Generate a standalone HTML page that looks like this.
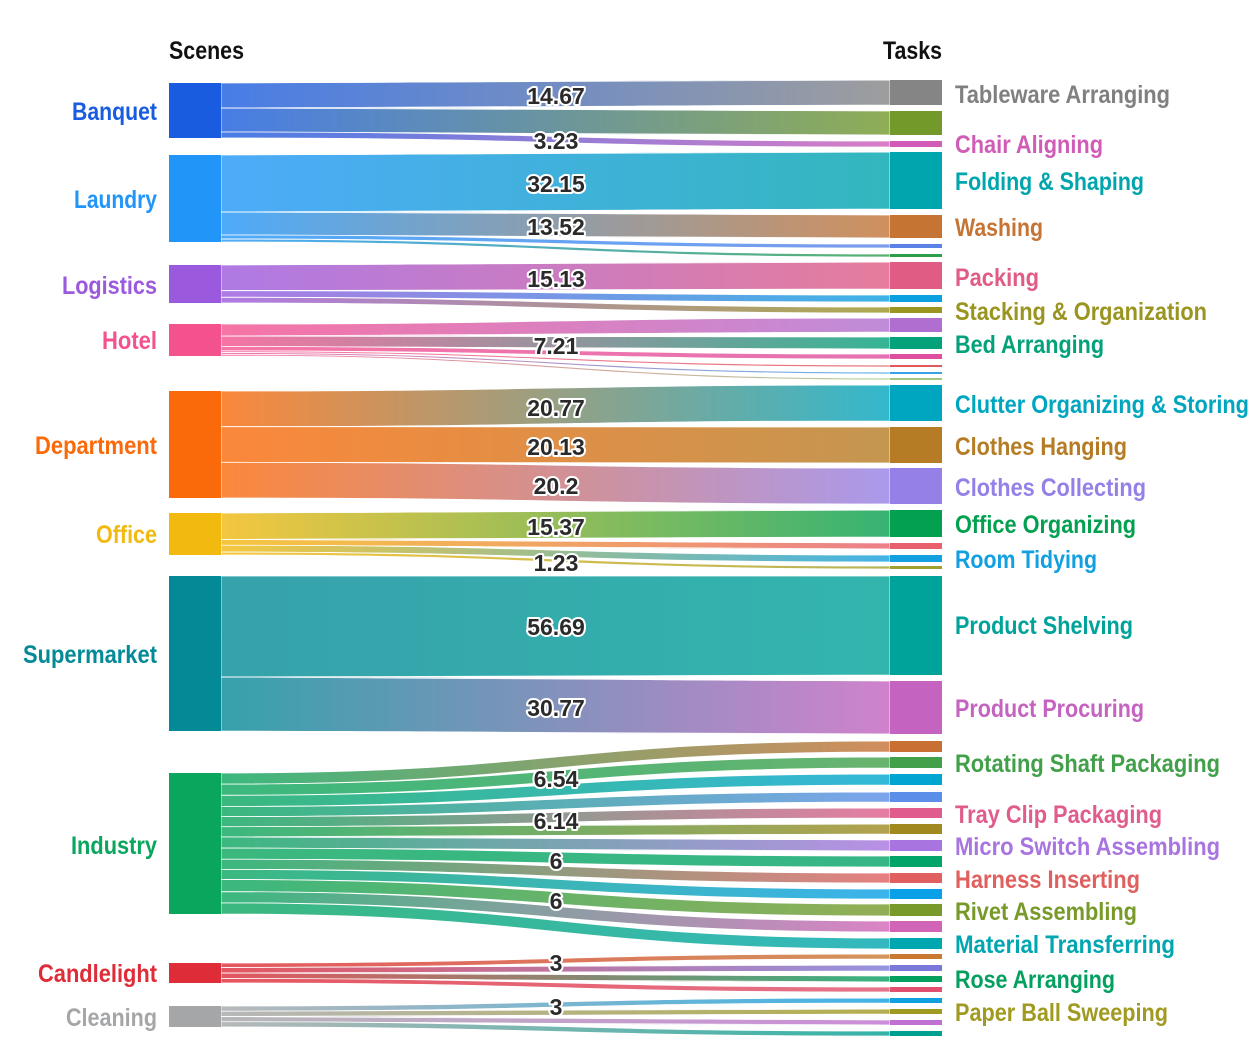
<!DOCTYPE html>
<html><head><meta charset="utf-8"><style>
html,body{margin:0;padding:0;background:#fff;}
svg{display:block;}
text{font-family:"Liberation Sans Narrow","Liberation Sans",sans-serif;font-weight:bold;}
.l{font-size:25px;text-anchor:end;}
.r{font-size:25px;}
.v{font-size:23px;fill:#2a2a2a;stroke:#fff;stroke-width:4px;paint-order:stroke;text-anchor:middle;stroke-linejoin:round;}
</style></head><body>
<svg id="s" width="1255" height="1039" viewBox="0 0 1255 1039" xmlns="http://www.w3.org/2000/svg">
<defs id="d"></defs>
<g id="links"></g>
<g id="nodes"></g>
<text x="169" y="59" class="r" fill="#111" textLength="75" lengthAdjust="spacingAndGlyphs">Scenes</text>
<text x="883" y="59" class="r" fill="#111" textLength="59" lengthAdjust="spacingAndGlyphs">Tasks</text>

<text x="157" y="120" class="l" fill="#1a5ce0" textLength="85" lengthAdjust="spacingAndGlyphs">Banquet</text>
<text x="157" y="208" class="l" fill="#2196f8" textLength="83" lengthAdjust="spacingAndGlyphs">Laundry</text>
<text x="157" y="294" class="l" fill="#9b59dd" textLength="95" lengthAdjust="spacingAndGlyphs">Logistics</text>
<text x="157" y="349" class="l" fill="#f4518f" textLength="55" lengthAdjust="spacingAndGlyphs">Hotel</text>
<text x="157" y="454" class="l" fill="#fa6a0a" textLength="122" lengthAdjust="spacingAndGlyphs">Department</text>
<text x="157" y="543" class="l" fill="#f2b90f" textLength="61" lengthAdjust="spacingAndGlyphs">Office</text>
<text x="157" y="663" class="l" fill="#048a96" textLength="134" lengthAdjust="spacingAndGlyphs">Supermarket</text>
<text x="157" y="854" class="l" fill="#0aa65e" textLength="86" lengthAdjust="spacingAndGlyphs">Industry</text>
<text x="157" y="982" class="l" fill="#de2c38" textLength="119" lengthAdjust="spacingAndGlyphs">Candlelight</text>
<text x="157" y="1026" class="l" fill="#a4a6a8" textLength="91" lengthAdjust="spacingAndGlyphs">Cleaning</text>

<text x="955" y="103" class="r" fill="#808080" textLength="215" lengthAdjust="spacingAndGlyphs">Tableware Arranging</text>
<text x="955" y="153" class="r" fill="#d05cb8" textLength="148" lengthAdjust="spacingAndGlyphs">Chair Aligning</text>
<text x="955" y="190" class="r" fill="#00a5ad" textLength="189" lengthAdjust="spacingAndGlyphs">Folding &amp; Shaping</text>
<text x="955" y="236" class="r" fill="#c57434" textLength="88" lengthAdjust="spacingAndGlyphs">Washing</text>
<text x="955" y="286" class="r" fill="#e05c84" textLength="84" lengthAdjust="spacingAndGlyphs">Packing</text>
<text x="955" y="320" class="r" fill="#9a9420" textLength="252" lengthAdjust="spacingAndGlyphs">Stacking &amp; Organization</text>
<text x="955" y="353" class="r" fill="#03a27a" textLength="149" lengthAdjust="spacingAndGlyphs">Bed Arranging</text>
<text x="955" y="413" class="r" fill="#00a6c0" textLength="294" lengthAdjust="spacingAndGlyphs">Clutter Organizing &amp; Storing</text>
<text x="955" y="455" class="r" fill="#b57c25" textLength="172" lengthAdjust="spacingAndGlyphs">Clothes Hanging</text>
<text x="955" y="496" class="r" fill="#9580e8" textLength="191" lengthAdjust="spacingAndGlyphs">Clothes Collecting</text>
<text x="955" y="533" class="r" fill="#03a050" textLength="181" lengthAdjust="spacingAndGlyphs">Office Organizing</text>
<text x="955" y="568" class="r" fill="#12a0e0" textLength="142" lengthAdjust="spacingAndGlyphs">Room Tidying</text>
<text x="955" y="634" class="r" fill="#00a39a" textLength="178" lengthAdjust="spacingAndGlyphs">Product Shelving</text>
<text x="955" y="717" class="r" fill="#c463c0" textLength="189" lengthAdjust="spacingAndGlyphs">Product Procuring</text>
<text x="955" y="772" class="r" fill="#43a04a" textLength="265" lengthAdjust="spacingAndGlyphs">Rotating Shaft Packaging</text>
<text x="955" y="823" class="r" fill="#e05c8c" textLength="207" lengthAdjust="spacingAndGlyphs">Tray Clip Packaging</text>
<text x="955" y="855" class="r" fill="#a874e0" textLength="265" lengthAdjust="spacingAndGlyphs">Micro Switch Assembling</text>
<text x="955" y="888" class="r" fill="#e06060" textLength="185" lengthAdjust="spacingAndGlyphs">Harness Inserting</text>
<text x="955" y="920" class="r" fill="#789a2a" textLength="182" lengthAdjust="spacingAndGlyphs">Rivet Assembling</text>
<text x="955" y="953" class="r" fill="#00a6b0" textLength="220" lengthAdjust="spacingAndGlyphs">Material Transferring</text>
<text x="955" y="988" class="r" fill="#05a060" textLength="160" lengthAdjust="spacingAndGlyphs">Rose Arranging</text>
<text x="955" y="1021" class="r" fill="#a09a20" textLength="213" lengthAdjust="spacingAndGlyphs">Paper Ball Sweeping</text>

<g id="vals">
<text x="556" y="104" class="v">14.67</text>
<text x="556" y="149" class="v">3.23</text>
<text x="556" y="192" class="v">32.15</text>
<text x="556" y="235" class="v">13.52</text>
<text x="556" y="287" class="v">15.13</text>
<text x="556" y="354" class="v">7.21</text>
<text x="556" y="416" class="v">20.77</text>
<text x="556" y="455" class="v">20.13</text>
<text x="556" y="494" class="v">20.2</text>
<text x="556" y="535" class="v">15.37</text>
<text x="556" y="571" class="v">1.23</text>
<text x="556" y="635" class="v">56.69</text>
<text x="556" y="716" class="v">30.77</text>
<text x="556" y="787" class="v">6.54</text>
<text x="556" y="829" class="v">6.14</text>
<text x="556" y="869" class="v">6</text>
<text x="556" y="909" class="v">6</text>
<text x="556" y="971" class="v">3</text>
<text x="556" y="1015" class="v">3</text>
</g>
</svg>
<script>
var S=[
["#1a5ce0",83,138,[[80,105,"#858585"],[111,135,"#72992a"],[141,147,"#d05cb8"]]],
["#2196f8",155,242,[[152,209,"#00a5ad"],[215,238,"#c57434"],[244,248,"#5b82e6"],[254,257,"#2e9e4a"]]],
["#9b59dd",265,303,[[262,289,"#e05c84"],[295,302,"#0ca0e0"],[307,313,"#9a9420"]]],
["#f4518f",324,356,[[318,332,"#b06fd0"],[337,349,"#03a27a"],[354,359,"#de4fa0"],[365,367,"#e05858"],[372,374,"#3aa0e8"],[378,380,"#a0c880"]]],
["#fa6a0a",391,498,[[385,421,"#00a6c0"],[427,463,"#b57c25"],[468,504,"#9580e8"]]],
["#f2b90f",513,555,[[510,537,"#03a050"],[543,549,"#e8606c"],[555,562,"#12a0e0"],[566,569,"#a0a030"]]],
["#048a96",576,731,[[576,675,"#00a39a"],[681,734,"#c463c0"]]],
["#0aa65e",773,914,[[741,752,"#c87034"],[757,768,"#43a04a"],[774,785,"#00a6d0"],[792,802,"#5b8ee8"],[808,818,"#e05c8c"],[824,834,"#a08a20"],[840,851,"#a874e0"],[856,867,"#03a468"],[873,883,"#e06060"],[889,899,"#0aa0e8"],[904,916,"#789a2a"],[921,932,"#d264b8"],[938,949,"#00a6b0"]]],
["#de2c38",963,983,[[954,959,"#c97a30"],[965,971,"#7a78d8"],[976,982,"#05a060"],[987,992,"#e0506e"]]],
["#a4a6a8",1006,1027,[[998,1003,"#10a0e0"],[1009,1014,"#a09a20"],[1020,1025,"#c070d0"],[1031,1036,"#00a090"]]]
];
var NS="http://www.w3.org/2000/svg",d=document.getElementById('d'),L=document.getElementById('links'),N=document.getElementById('nodes');
function el(t,a,p){var e=document.createElementNS(NS,t);for(var k in a)e.setAttribute(k,a[k]);p.appendChild(e);return e;}
var x0=221,x1=890,xm=(x0+x1)/2,gid=0;
S.forEach(function(s){
  var tot=0;s[3].forEach(function(t){tot+=t[1]-t[0];});
  var y=s[1],h=s[2]-s[1];
  el('rect',{x:169,y:s[1],width:52,height:h,fill:s[0]},N);
  s[3].forEach(function(t){
    var w=(t[1]-t[0])/tot*h,a0=y,a1=y+w;y=a1;
    var id='g'+(gid++);
    var g=el('linearGradient',{id:id,gradientUnits:'userSpaceOnUse',x1:x0,y1:0,x2:x1,y2:0},d);
    el('stop',{offset:0,'stop-color':s[0]},g);el('stop',{offset:1,'stop-color':t[2]},g);
    var p='M'+x0+','+a0+' C'+xm+','+a0+' '+xm+','+t[0]+' '+x1+','+t[0]+' L'+x1+','+t[1]+' C'+xm+','+t[1]+' '+xm+','+a1+' '+x0+','+a1+' Z';
    el('path',{d:p,fill:'url(#'+id+')','fill-opacity':0.8,stroke:'#fff','stroke-width':0.8},L);
    el('rect',{x:890,y:t[0],width:52,height:t[1]-t[0],fill:t[2]},N);
  });
});
</script>
</body></html>
